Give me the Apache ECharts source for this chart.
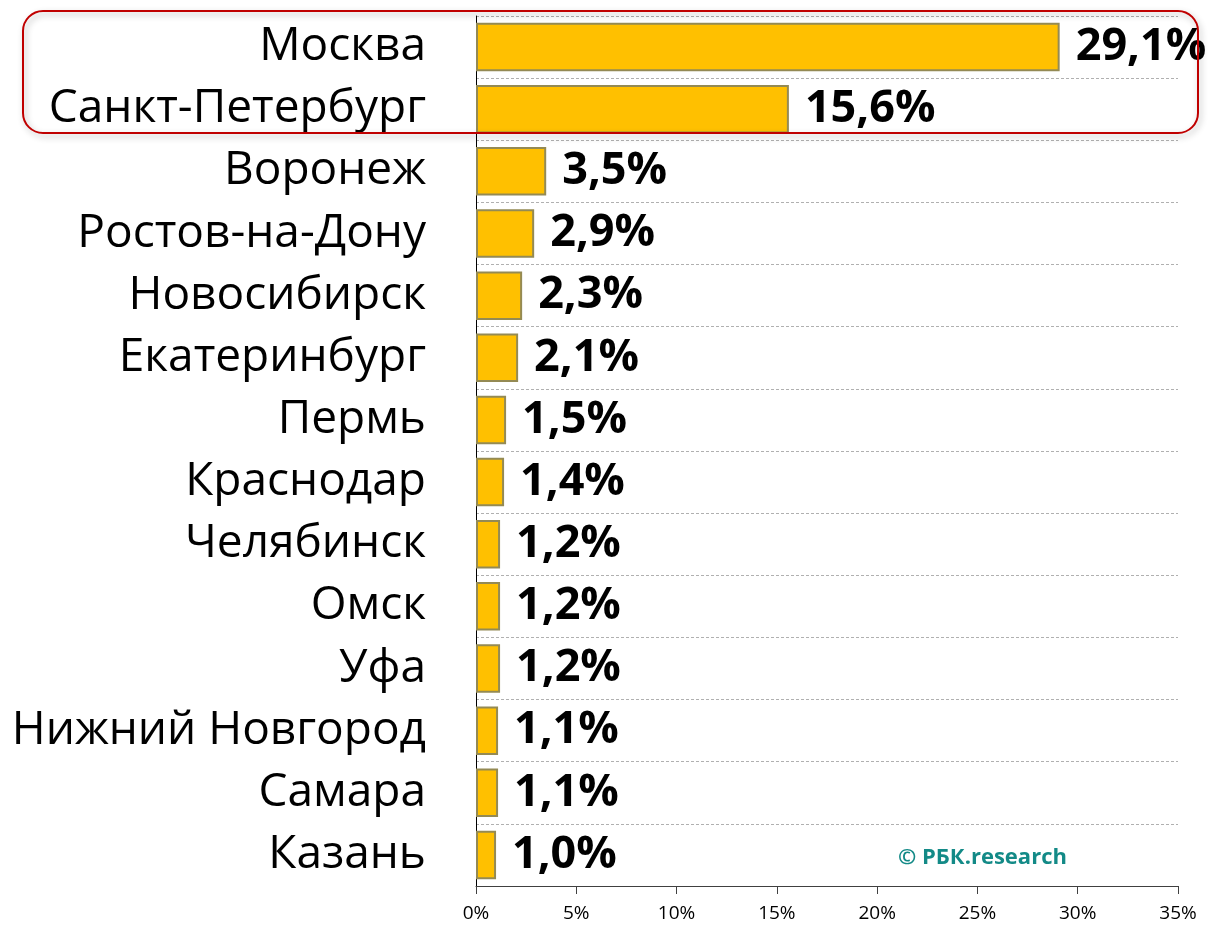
<!DOCTYPE html>
<html>
<head>
<meta charset="utf-8">
<script src="https://cdn.jsdelivr.net/npm/echarts@6/dist/echarts.min.js"></script>
<style>
  html, body { margin: 0; padding: 0; background: #fff; }
  #chart { width: 1213px; height: 926px; }
</style>
</head>
<body>
<div id="chart"></div>
<script>
// города и доли
var cities = ['Москва', 'Санкт-Петербург', 'Воронеж', 'Ростов-на-Дону', 'Новосибирск',
  'Екатеринбург', 'Пермь', 'Краснодар', 'Челябинск', 'Омск', 'Уфа',
  'Нижний Новгород', 'Самара', 'Казань'];
var shares = [29.1, 15.6, 3.5, 2.9, 2.3, 2.1, 1.5, 1.4, 1.2, 1.2, 1.2, 1.1, 1.1, 1.0];
var xTicks = [0, 5, 10, 15, 20, 25, 30, 35];

var chart = echarts.init(document.getElementById('chart'));

var option = {
  animation: false,
  grid: { left: 476, right: 35, top: 16, bottom: 40 },
  xAxis: {
    type: 'value',
    min: xTicks[0],
    max: xTicks[xTicks.length - 1],
    interval: xTicks[1] - xTicks[0],
    axisLine: { show: true, lineStyle: { color: '#404040', width: 1 } },
    axisTick: { show: true, length: 8, lineStyle: { color: '#404040' } },
    splitLine: { show: false },
    axisLabel: {
      formatter: '{value}%',
      color: '#000',
      fontFamily: 'Open Sans',
      fontSize: 19,
      margin: 18
    }
  },
  yAxis: {
    type: 'category',
    data: cities,
    inverse: true,
    axisLine: { show: true, lineStyle: { color: '#000', width: 1 } },
    axisTick: { show: false },
    splitLine: { show: true, lineStyle: { color: '#b0b0b0', type: [3, 2], width: 1 } },
    axisLabel: {
      color: '#000',
      fontFamily: 'Open Sans',
      fontSize: 46,
      margin: 50
    }
  },
  series: [{
    type: 'bar',
    data: shares,
    barCategoryGap: '22%',
    itemStyle: { color: '#FFC000', borderColor: '#948A54', borderWidth: 2 },
    label: {
      show: true,
      position: 'right',
      distance: 16,
      color: '#000',
      fontFamily: 'Open Sans',
      fontWeight: 'bold',
      fontSize: 45,
      formatter: function (p) { return p.value.toFixed(1).replace('.', ',') + '%'; }
    }
  }],
  graphic: [
    {
      type: 'rect',
      shape: { x: 23, y: 11, width: 1175, height: 122, r: 20 },
      style: {
        fill: 'none', stroke: '#C00000', lineWidth: 2,
        shadowBlur: 6, shadowColor: 'rgba(0,0,0,0.3)', shadowOffsetX: 2, shadowOffsetY: 3
      },
      z: 10
    },
    {
      type: 'text',
      left: 898,
      top: 847,
      style: {
        text: '© РБК.research',
        fill: '#138A87',
        font: 'bold 22px "Open Sans"'
      }
    }
  ]
};

chart.setOption(option);
</script>
</body>
</html>
